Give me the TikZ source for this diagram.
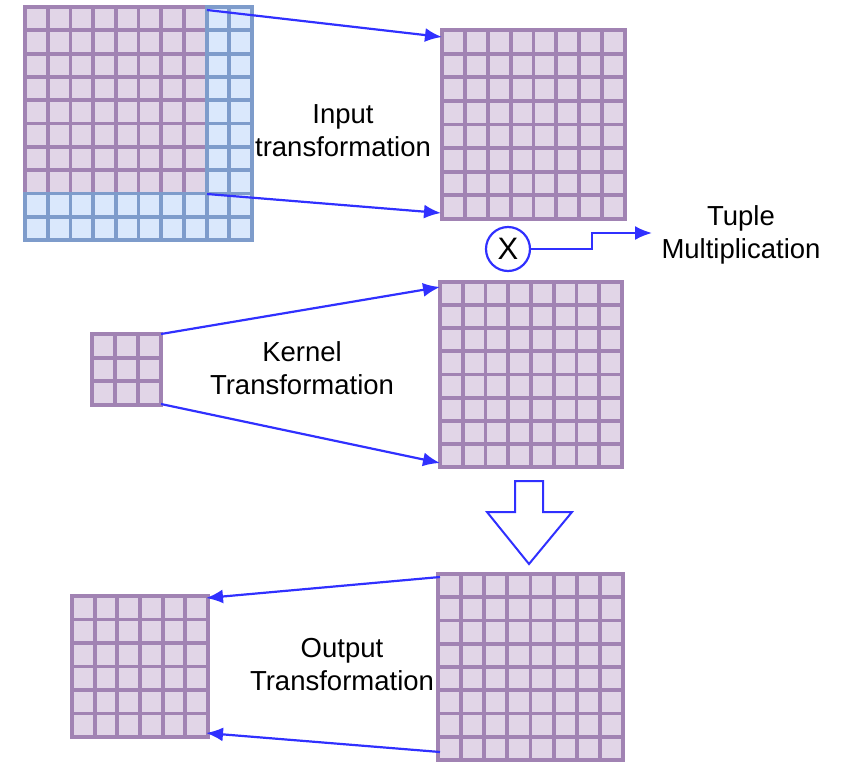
\documentclass[tikz,border=0pt]{standalone}
\usepackage{fontspec}
\setmainfont{Liberation Sans}
\usetikzlibrary{arrows.meta,calc}
\definecolor{cellfill}{HTML}{E1D5E7}
\definecolor{cellline}{HTML}{A183B3}
\definecolor{bfill}{HTML}{DAE8FC}
\definecolor{bline}{HTML}{7E9CCB}
\definecolor{arr}{HTML}{3030FF}
\tikzset{
  cellp/.style={fill=cellfill, draw=cellline, line width=3.8pt},
  cellb/.style={fill=bfill, draw=bline, line width=3.8pt},
  conn/.style={draw=arr, line width=2.2pt, -{Latex[length=17pt,width=14pt]}},
  lbl/.style={font=\fontsize{27.5}{33}\selectfont, align=center, inner sep=0},
  gridbox/.style={inner sep=0, outer sep=0, anchor=north west},
}
% name, x0, y0, w, h, cols, rows
\newcommand\mygrid[7]{%
  \node[gridbox, minimum width=#4pt, minimum height=#5pt] (#1) at (#2,#3) {};
  \foreach \i in {1,...,#6}{\foreach \j in {1,...,#7}{%
    \draw[cellp] ({#2+(\i-1)*#4/#6},{#3+(\j-1)*#5/#7}) rectangle ++({#4/#6},{#5/#7});
  }}%
}
\begin{document}
\begin{tikzpicture}[x=1pt,y=-1pt]
\useasboundingbox (0,0) rectangle (844,761);

% input grid (10x10 with blue border cells)
\node[gridbox, minimum width=227pt, minimum height=233pt] (gin) at (25,7) {};
\foreach \i in {0,...,9}{\foreach \j in {0,...,9}{%
  \pgfmathtruncatemacro\blue{(\i>7)||(\j>7)}
  \ifnum\blue=1
    \draw[cellb] ({25+\i*22.7},{7+\j*23.3}) rectangle ++(22.7,23.3);
  \else
    \draw[cellp] ({25+\i*22.7},{7+\j*23.3}) rectangle ++(22.7,23.3);
  \fi
}}

\mygrid{gtr}{442}{30}{183}{189}{8}{8}
\mygrid{gker}{92}{334}{69}{71}{3}{3}
\mygrid{gkt}{440}{282}{182}{185}{8}{8}
\mygrid{gprod}{438}{574}{185}{186}{8}{8}
\mygrid{gout}{72}{596}{136}{141}{6}{6}

% connector end points
\coordinate (a1) at (207,10);
\coordinate (a1e) at (442,37);
\coordinate (a2) at (207,194);
\coordinate (a2e) at (441,213);
\coordinate (k1) at (161,334);
\coordinate (k1e) at (440,287);
\coordinate (k2) at (161,404);
\coordinate (k2e) at (440,463);
\coordinate (o1) at (440,577);
\coordinate (o1e) at (206,598);
\coordinate (o2) at (440,752);
\coordinate (o2e) at (206,733);

\draw[conn] (a1) -- (a1e);
\draw[conn] (a2) -- (a2e);
\draw[conn] (k1) -- (k1e);
\draw[conn] (k2) -- (k2e);
\draw[conn] (o1) -- (o1e);
\draw[conn] (o2) -- (o2e);

% labels
\node[lbl] (tin) at (343,131) {Input\\transformation};
\node[lbl] (tker) at (302,368) {Kernel\\Transformation};
\node[lbl] (tout) at (342,665) {Output\\Transformation};
\node[lbl] (ttup) at (741,235) {Tuple\\Multiplication};

% multiply circle
\node[circle, draw=arr, line width=2.2pt, fill=white, minimum size=44pt, inner sep=0,
      font=\fontsize{31}{34}\selectfont] (mul) at (508,249) {X};
\draw[conn] (mul.east) -- (592,249) -- (592,233) -- (652,233);

% hollow down arrow
\draw[draw=arr, line width=2pt, fill=white, line join=miter]
  (515,481) -- (543,481) -- (543,512) -- (572,512) -- (529,564) -- (487,512) -- (515,512) -- cycle;
\end{tikzpicture}
\end{document}
